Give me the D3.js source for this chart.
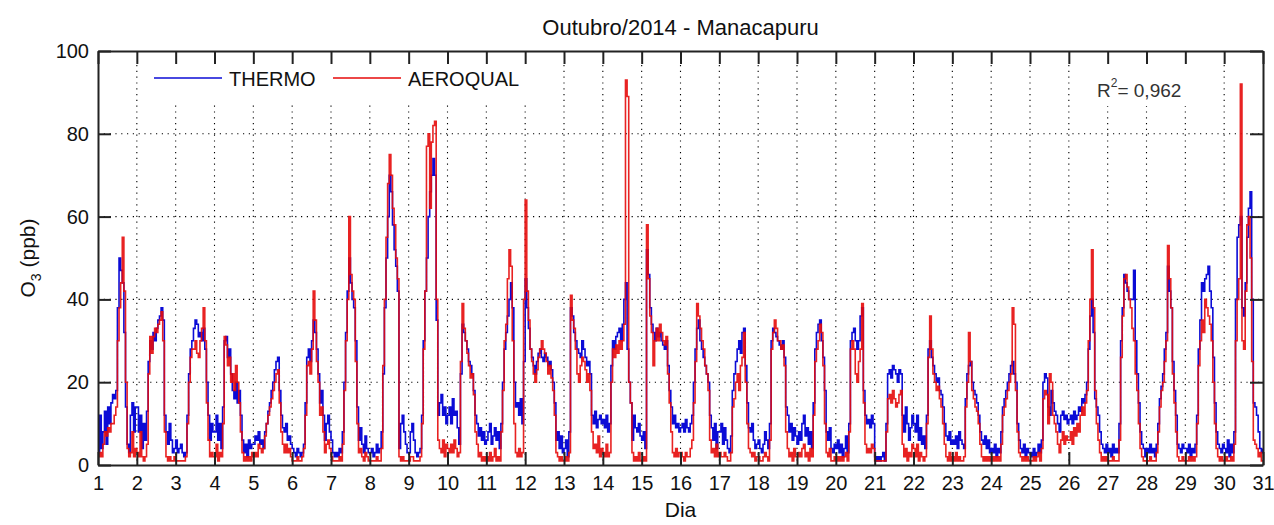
<!DOCTYPE html>
<html>
<head>
<meta charset="utf-8">
<script src="https://cdn.jsdelivr.net/npm/d3@7"></script>
<style>
  html, body { margin: 0; padding: 0; background: #fff; }
  svg { display: block; }
  text { font-family: "Liberation Sans", Arial, sans-serif; fill: #111; }
</style>
</head>
<body>
<svg id="chart" width="1274" height="525"></svg>
<script>
// ---------------- DATA (hourly values, one row per day) ----------------
const title = "Outubro/2014 - Manacapuru";
const xLabel = "Dia";
const seriesNames = ["THERMO", "AEROQUAL"];
const r2Label = "0,962";
const xTicks = d3.range(1, 32);
const yTicks = [0, 20, 40, 60, 80, 100];
const startDay = 1;
const samplesPerDay = 24;

const thermo = [
  3,12,4,8,13,5,14,10,15,17,16,18,38,50,47,44,32,14,5,3,12,15,8,14,      // 1
  14,8,12,4,10,6,13,25,30,28,32,30,33,35,36,38,35,12,8,5,10,6,3,4,      // 2
  6,3,4,5,3,2,3,12,22,28,30,33,35,34,31,32,30,33,28,20,12,6,10,8,       // 3
  8,12,6,10,4,14,30,31,26,28,22,18,16,20,15,18,12,6,3,5,2,6,4,5,        // 4
  5,7,6,8,5,6,4,8,10,13,15,18,20,23,25,26,18,12,9,8,10,6,7,5,           // 5
  4,3,2,4,3,2,3,5,15,26,28,25,30,35,32,28,22,15,18,12,6,10,12,8,        // 6
  6,3,2,3,2,4,3,8,20,32,42,50,44,40,38,30,14,6,9,5,3,7,4,3,             // 7
  3,4,2,3,5,3,4,8,22,38,50,60,70,66,58,52,48,42,4,10,12,8,5,3,          // 8
  3,8,10,6,3,2,3,4,12,30,42,50,60,66,70,74,70,35,12,15,17,12,14,10,     // 9
  12,14,10,16,12,13,9,5,22,34,32,30,28,25,24,22,18,12,10,7,9,6,8,5,     // 10
  6,8,10,5,7,9,6,8,4,10,20,28,32,36,40,44,38,20,14,15,12,16,10,25,      // 11
  45,38,33,28,26,24,22,25,27,28,26,25,27,26,24,25,23,20,15,6,8,4,7,3,   // 12
  4,6,2,8,38,36,32,30,28,27,26,30,28,26,24,25,22,12,10,13,9,11,12,10,   // 13
  11,9,12,8,10,24,30,28,31,32,33,30,34,40,44,28,20,15,6,12,9,8,10,7,    // 14
  6,8,4,52,46,38,34,32,30,33,31,32,30,29,28,30,24,18,14,10,12,9,10,8,   // 15
  9,10,8,11,9,8,10,12,20,28,33,35,30,28,26,24,22,20,12,9,6,10,4,8,      // 16
  8,10,5,9,6,4,3,7,18,22,25,28,30,27,32,33,24,15,9,8,10,6,4,5,          // 17
  6,4,3,5,8,6,4,10,30,33,32,31,30,29,28,30,26,14,12,8,10,6,9,7,         // 18
  5,8,6,10,12,7,9,5,8,4,15,28,32,34,35,30,26,18,8,6,9,4,3,5,            // 19
  4,6,3,5,2,4,7,3,10,30,32,33,30,28,30,36,38,18,12,10,11,9,12,10,       // 20
  2,1,2,1,2,3,1,10,22,23,21,24,23,22,20,23,22,12,8,14,10,6,9,12,        // 21
  10,8,12,6,9,5,7,4,12,28,30,26,24,22,20,21,18,17,14,10,7,6,8,5,        // 22
  6,5,7,4,8,6,5,4,16,22,24,25,20,18,17,15,12,8,6,5,7,4,6,3,             // 23
  4,3,5,2,4,3,8,14,16,18,20,22,24,25,22,20,10,6,4,3,5,2,4,3,            // 24
  3,2,4,2,3,5,3,6,20,22,21,14,12,18,15,13,12,10,8,12,13,11,12,10,       // 25
  11,12,10,13,11,12,14,13,16,15,17,20,28,36,40,32,16,14,12,8,5,4,3,5,   // 26
  3,4,2,5,3,4,3,10,30,38,46,44,42,40,40,40,47,30,22,15,8,5,4,2,         // 27
  4,3,5,3,4,2,5,10,16,19,22,28,32,48,42,38,25,18,12,5,4,3,5,4,          // 28
  4,3,5,2,4,3,5,12,28,35,44,42,45,46,48,42,38,26,15,8,5,4,3,5,          // 29
  4,3,6,2,5,3,8,40,55,58,60,38,36,44,55,62,66,40,15,14,12,8,4,3,        // 30
  4                                                                     // 31 00h
];

const aeroqual = [
  2,3,2,5,8,7,9,8,10,10,12,14,30,38,44,55,42,20,4,2,3,8,2,4,            // 1
  3,2,8,2,1,2,5,22,31,27,31,33,32,34,35,37,30,8,2,1,2,1,1,2,            // 2
  1,1,1,1,1,1,2,10,20,26,28,28,30,27,26,30,33,38,30,15,6,2,3,2,         // 3
  2,5,1,3,2,10,31,29,24,26,20,22,18,24,20,15,8,3,1,2,1,2,1,3,           // 4
  2,3,2,5,4,3,4,7,10,12,14,16,18,20,22,23,15,8,5,3,5,3,4,2,             // 5
  1,1,1,2,1,1,2,4,12,24,25,22,28,42,35,25,20,12,14,8,3,5,6,4,           // 6
  2,1,1,1,1,2,1,5,18,30,40,60,46,42,40,25,10,3,4,2,1,3,2,1,             // 7
  1,1,1,1,2,1,1,4,24,40,55,68,75,70,62,58,50,45,2,1,2,1,1,1,            // 8
  1,2,2,1,1,1,1,2,10,28,42,77,80,62,78,82,83,40,6,4,3,6,2,5,            // 9
  4,3,5,3,6,4,2,3,25,39,33,30,27,24,21,22,17,8,5,2,3,1,2,1,             // 10
  2,1,3,1,2,4,1,2,1,8,18,30,34,45,52,48,30,10,3,2,4,2,3,40,             // 11
  64,42,35,28,25,22,20,23,26,28,30,28,27,25,22,24,21,18,12,3,2,1,2,1,   // 12
  1,2,1,3,41,35,33,28,22,20,24,26,25,23,20,22,18,8,4,5,3,7,2,4,         // 13
  3,2,5,2,3,20,28,26,29,27,30,28,30,34,93,89,20,15,3,1,2,1,3,1,         // 14
  1,2,1,58,45,36,32,24,30,33,30,34,32,30,29,31,22,15,8,3,2,4,2,3,       // 15
  3,2,1,3,2,2,4,6,15,25,39,36,33,30,28,24,22,18,6,3,4,2,5,2,            // 16
  3,2,2,3,2,1,1,3,14,16,20,22,18,24,26,32,20,10,4,3,2,3,1,2,            // 17
  2,1,1,2,3,2,1,6,28,32,35,33,30,30,28,29,24,8,4,2,3,1,4,2,             // 18
  2,3,2,4,5,2,3,1,4,2,12,25,28,30,34,32,24,10,3,2,4,1,1,2,              // 19
  1,2,1,2,1,2,3,1,8,28,30,28,22,20,25,28,39,15,5,3,4,3,5,4,             // 20
  1,1,1,1,1,1,1,8,16,17,15,18,16,14,15,17,18,5,2,4,1,3,2,5,             // 21
  4,2,5,1,3,2,1,2,10,26,36,28,22,20,18,19,16,14,10,5,2,1,3,1,           // 22
  2,1,3,1,2,1,1,2,14,20,32,25,18,16,14,13,10,5,2,1,2,1,2,1,             // 23
  2,1,2,1,2,1,5,12,14,16,18,20,22,38,34,18,8,3,2,1,2,1,2,1,             // 24
  1,1,2,1,2,3,1,4,16,18,17,10,22,20,12,10,8,5,3,6,8,5,7,6,              // 25
  6,8,5,9,7,10,8,12,14,12,15,18,30,40,52,38,18,10,6,3,1,2,1,2,          // 26
  1,1,1,2,1,1,1,6,26,36,45,46,43,40,38,33,30,22,18,10,4,2,1,1,          // 27
  1,1,2,1,1,1,3,8,14,18,20,25,30,53,45,38,22,15,8,2,1,1,2,1,            // 28
  1,1,2,1,2,1,2,10,24,30,35,32,40,38,36,34,30,20,10,4,2,1,2,1,          // 29
  1,2,1,1,2,1,5,30,40,45,92,30,28,42,58,60,50,25,6,5,4,2,3,1,           // 30
  1                                                                     // 31 00h
];

const seriesColors = ["#0b0bd6", "#e60a0a"];

// ---------------- LAYOUT ----------------
const svg = d3.select("#chart");
const M = { left: 98, right: 1263, top: 51, bottom: 465 };

const x = d3.scaleLinear().domain([1, 31]).range([M.left, M.right]);
const y = d3.scaleLinear().domain([0, 100]).range([M.bottom, M.top]);

const toPoints = arr => arr.map((v, i) => ({ t: startDay + i / samplesPerDay, v }));

// grid
const grid = svg.append("g");
grid.selectAll("line.vg").data(xTicks.filter(d => d > 1 && d < 31)).join("line")
  .attr("x1", d => x(d)).attr("x2", d => x(d))
  .attr("y1", M.top + 14).attr("y2", M.bottom)
  .attr("stroke", "#000").attr("stroke-width", 1.1)
  .attr("stroke-dasharray", "1.2,4.6");
grid.selectAll("line.hg").data(yTicks.filter(d => d > 0 && d < 100)).join("line")
  .attr("x1", M.left).attr("x2", M.right)
  .attr("y1", d => y(d)).attr("y2", d => y(d))
  .attr("stroke", "#000").attr("stroke-width", 1.1)
  .attr("stroke-dasharray", "1.2,4.6");

// boxes hiding grid behind legend and R² text
svg.append("rect").attr("x", 140).attr("y", M.top + 1).attr("width", 405).attr("height", 52).attr("fill", "#fff");
svg.append("rect").attr("x", 1088).attr("y", M.top + 1).attr("width", 115).attr("height", 54).attr("fill", "#fff");

// series lines
const line = d3.line().x(d => x(d.t)).y(d => y(d.v)).curve(d3.curveStepAfter);
svg.append("clipPath").attr("id", "clip").append("rect")
  .attr("x", M.left).attr("y", M.top).attr("width", M.right - M.left).attr("height", M.bottom - M.top);
const plot = svg.append("g").attr("clip-path", "url(#clip)");
[thermo, aeroqual].forEach((arr, i) => {
  plot.append("path").datum(toPoints(arr))
    .attr("fill", "none").attr("stroke", seriesColors[i])
    .attr("stroke-width", 1.6).attr("stroke-linejoin", "miter")
    .attr("stroke-opacity", i === 1 ? 0.9 : 1)
    .attr("d", line);
});

// axes (MATLAB style: ticks inward on all four sides)
const tickLen = 13;
const fs = 20;
const axB = svg.append("g").attr("transform", `translate(0,${M.bottom})`)
  .call(d3.axisBottom(x).tickValues(xTicks).tickFormat(d3.format("d")).tickSizeInner(-tickLen).tickSizeOuter(0).tickPadding(11));
const axT = svg.append("g").attr("transform", `translate(0,${M.top})`)
  .call(d3.axisTop(x).tickValues(xTicks).tickFormat("").tickSizeInner(-tickLen).tickSizeOuter(0));
const axL = svg.append("g").attr("transform", `translate(${M.left},0)`)
  .call(d3.axisLeft(y).tickValues(yTicks).tickFormat(d3.format("d")).tickSizeInner(-tickLen).tickSizeOuter(0).tickPadding(9));
const axR = svg.append("g").attr("transform", `translate(${M.right},0)`)
  .call(d3.axisRight(y).tickValues(yTicks).tickFormat("").tickSizeInner(-tickLen).tickSizeOuter(0));
[axB, axT, axL, axR].forEach(a => {
  a.select(".domain").attr("stroke", "#222").attr("stroke-width", 2);
  a.selectAll(".tick line").attr("stroke", "#222").attr("stroke-width", 2);
  a.selectAll("text").attr("font-size", fs).attr("font-family", "Liberation Sans, Arial, sans-serif").attr("fill", "#111");
});

// title & labels
svg.append("text").attr("x", (M.left + M.right) / 2).attr("y", 35)
  .attr("text-anchor", "middle").attr("font-size", 22).text(title);
svg.append("text").attr("x", (M.left + M.right) / 2).attr("y", 517)
  .attr("text-anchor", "middle").attr("font-size", 21).text(xLabel);
const yl = svg.append("text").attr("transform", `translate(35,${(M.top + M.bottom) / 2}) rotate(-90)`)
  .attr("text-anchor", "middle").attr("font-size", 21);
yl.append("tspan").text("O");
yl.append("tspan").attr("font-size", 14).attr("dy", 6).text("3");
yl.append("tspan").attr("dy", -6).text(" (ppb)");

// legend
const legend = svg.append("g");
const legendItems = [
  { name: seriesNames[0], color: seriesColors[0], x1: 154, x2: 222, tx: 229 },
  { name: seriesNames[1], color: seriesColors[1], x1: 333, x2: 401, tx: 408 }
];
legendItems.forEach(it => {
  legend.append("line").attr("x1", it.x1).attr("x2", it.x2).attr("y1", 78).attr("y2", 78)
    .attr("stroke", it.color).attr("stroke-width", 1.6);
  legend.append("text").attr("x", it.tx).attr("y", 86).attr("font-size", 20).text(it.name);
});

// R² annotation
const r2 = svg.append("text").attr("x", 1097).attr("y", 97)
  .attr("font-family", "DejaVu Sans, Verdana, sans-serif").attr("font-size", 19).style("fill", "#333");
r2.append("tspan").text("R");
r2.append("tspan").attr("font-size", 12).attr("dy", -10).text("2");
r2.append("tspan").attr("dy", 10).text("= " + r2Label);
</script>
</body>
</html>
